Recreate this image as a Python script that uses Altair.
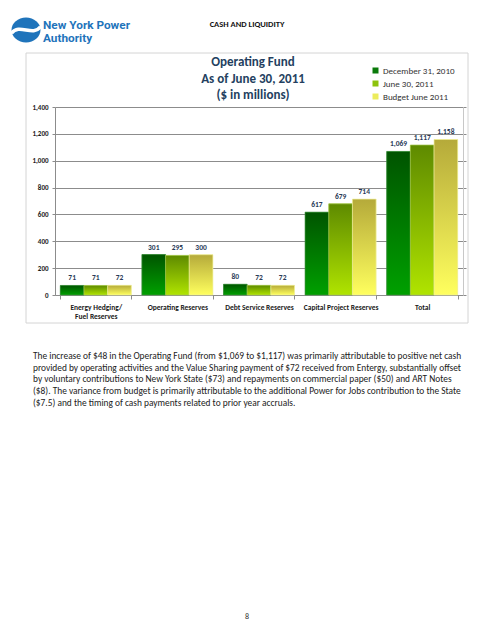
import altair as alt
import pandas as pd

# ---------------- data ----------------
categories = ["Energy Hedging/ Fuel Reserves", "Operating Reserves",
              "Debt Service Reserves", "Capital Project Reserves", "Total"]
series = ["December 31, 2010", "June 30, 2011", "Budget June 2011"]
dec_2010 = [71, 301, 80, 617, 1069]
jun_2011 = [71, 295, 72, 679, 1117]
budget_2011 = [72, 300, 72, 714, 1158]
y_ticks = [0, 200, 400, 600, 800, 1000, 1200, 1400]

title_lines = ["Operating Fund", "As of June 30, 2011", "($ in millions)"]
header_text = "CASH AND LIQUIDITY"
logo_line1 = "New York Power"
logo_line2 = "Authority"
paragraph_lines = [
    "The increase of $48 in the Operating Fund (from $1,069 to $1,117) was primarily attributable to positive net cash",
    "provided by operating activities and the Value Sharing payment of $72 received from Entergy, substantially offset",
    "by voluntary contributions to New York State ($73) and repayments on commercial paper ($50) and ART Notes",
    "($8). The variance from budget is primarily attributable to the additional Power for Jobs contribution to the State",
    "($7.5) and the timing of cash payments related to prior year accruals.",
]
page_number = "8"

rows = []
for s, vals in zip(series, [dec_2010, jun_2011, budget_2011]):
    for c, v in zip(categories, vals):
        rows.append({"category": c, "series": s, "value": v})
df = pd.DataFrame(rows)
one = pd.DataFrame({"k": [0]})

# ---------------- styles ----------------
FONT = "Carlito, Lato, sans-serif"
LOGO_FONT = "Liberation Sans Narrow, Roboto, sans-serif"
GRID = "#8c8c8c"
legend_colors = ["#0a7a0a", "#8dc30c", "#ecec5c"]
gradients = {
    "December 31, 2010": ("#005400", "#00a000", "#3d8f3d"),
    "June 30, 2011": ("#5e8a00", "#b0e400", "#a8c850"),
    "Budget June 2011": ("#b5aa3a", "#ffff5e", "#f0f0a0"),
}

label_expr = ("indexof(datum.label, '/ ') > 0 ? "
              "[slice(datum.label, 0, indexof(datum.label, '/ ') + 1), "
              "slice(datum.label, indexof(datum.label, '/ ') + 2)] : datum.label")

x_enc = alt.X("category:N", sort=categories,
              scale=alt.Scale(domain=categories, paddingInner=0.13, paddingOuter=0.065),
              axis=alt.Axis(title=None, labelAngle=0, labelFont=FONT, labelFontSize=7.5,
                            labelFontWeight="bold", labelColor="#1a1a1a", labelExpr=label_expr,
                            labelLineHeight=9, labelPadding=4, labelBaseline="top",
                            tickBand="extent", tickSize=4, tickColor=GRID,
                            domainColor=GRID, grid=False))
xo_enc = alt.XOffset("series:N", sort=series,
                     scale=alt.Scale(domain=series, paddingInner=0, paddingOuter=0))
y_scale = alt.Scale(domain=[0, 1400], nice=False)
y_none = alt.Y("value:Q", scale=y_scale, axis=None)

# border box
box = alt.Chart(one).mark_rect(fill="transparent", stroke="#d4d4d4", strokeWidth=1).encode(
    x=alt.value(-29), x2=alt.value(413), y=alt.value(-54), y2=alt.value(216))

# base bars (legend carrier)
base = alt.Chart(df).mark_bar().encode(
    x=x_enc, xOffset=xo_enc,
    y=alt.Y("value:Q", scale=y_scale,
            axis=alt.Axis(title=None, values=y_ticks, format=",d", labelFont=FONT,
                          labelFontSize=7, labelFontWeight="bold", labelColor="#1a1a1a",
                          labelPadding=4, tickSize=3, tickColor=GRID, domainColor=GRID,
                          grid=True, gridColor=GRID, gridWidth=1)),
    color=alt.Color("series:N", sort=series,
                    scale=alt.Scale(domain=series, range=legend_colors),
                    legend=alt.Legend(title=None, orient="none", legendX=316, legendY=-41,
                                      symbolType="square", symbolSize=36,
                                      labelFont=FONT, labelFontSize=9, labelColor="#333333",
                                      rowPadding=3, labelOffset=3)),
)

grad_layers = []
for s in series:
    top, bottom, edge = gradients[s]
    g = alt.Gradient(gradient="linear",
                     stops=[alt.GradientStop(color=top, offset=0),
                            alt.GradientStop(color=bottom, offset=1)],
                     x1=0, x2=0, y1=0, y2=1)
    grad_layers.append(
        alt.Chart(df).transform_filter(alt.datum.series == s)
        .mark_bar(fill=g, stroke=edge, strokeWidth=0.7)
        .encode(x=x_enc, xOffset=xo_enc, y=y_none)
    )

right_axis = alt.Chart(df).mark_bar(opacity=0).encode(
    x=x_enc, xOffset=xo_enc,
    y=alt.Y("value:Q", scale=y_scale,
            axis=alt.Axis(orient="right", title=None, values=y_ticks, labels=False,
                          tickSize=3, tickColor=GRID, domainColor="#c8c8c8", grid=False)))

labels = alt.Chart(df).mark_text(font=FONT, fontSize=7.5, fontWeight="bold",
                                 color="#2a3b58", baseline="bottom", dy=-3).encode(
    x=x_enc, xOffset=xo_enc, y=y_none, text=alt.Text("value:Q", format=","))

title = alt.Chart(one).mark_text(text=title_lines, font=FONT, fontSize=13, fontWeight="bold",
                                 color="#243f60", align="center", baseline="top",
                                 lineHeight=16.5).encode(x=alt.value(198), y=alt.value(-51))

header = alt.Chart(one).mark_text(text=header_text, font=FONT, fontSize=8.5, fontWeight="bold",
                                  color="#111111", align="center", baseline="middle").encode(
    x=alt.value(192), y=alt.value(-83))

logo_oval = alt.Chart(one).mark_point(
    shape="M -1 0 A 1 0.86 0 1 0 1 0 A 1 0.86 0 1 0 -1 0 Z",
    filled=True, fill="#1f74bb", stroke=None, size=841, opacity=1).encode(
    x=alt.value(-29), y=alt.value(-77))
logo_swoosh = alt.Chart(one).mark_point(
    shape="M -1 0.22 C -0.45 -0.5 0.45 0.5 1 -0.22",
    filled=False, stroke="white", strokeWidth=3.5, size=841, opacity=1).encode(
    x=alt.value(-29), y=alt.value(-77))
logo_text1 = alt.Chart(one).mark_text(text=logo_line1, font=LOGO_FONT, fontSize=11.8,
                                      fontWeight="bold", color="#1f74bb", align="left",
                                      baseline="alphabetic").encode(
    x=alt.value(-12), y=alt.value(-78.5))
logo_text2 = alt.Chart(one).mark_text(text=logo_line2, font=LOGO_FONT, fontSize=11.8,
                                      fontWeight="bold", color="#1f74bb", align="left",
                                      baseline="alphabetic").encode(
    x=alt.value(-12), y=alt.value(-65.5))

paragraph = alt.Chart(one).mark_text(text=paragraph_lines, font=FONT, fontSize=9.4,
                                     color="#222222", align="left", baseline="top",
                                     lineHeight=11.7).encode(x=alt.value(-22), y=alt.value(245))

page_no = alt.Chart(one).mark_text(text=page_number, font=FONT, fontSize=8, color="#333333",
                                   align="center", baseline="middle").encode(
    x=alt.value(192), y=alt.value(510))

chart = alt.layer(
    box, base, *grad_layers, right_axis, labels,
    title, header, logo_oval, logo_swoosh, logo_text1, logo_text2, paragraph, page_no
).resolve_axis(y="independent").properties(
    width=408, height=188,
    autosize=alt.AutoSizeParams(type="none"),
    padding={"left": 47, "top": 99, "right": 24, "bottom": 337},
    background="white",
).configure_view(stroke=None)

chart.save("out.html", embed_options={"renderer": "svg", "actions": False})
